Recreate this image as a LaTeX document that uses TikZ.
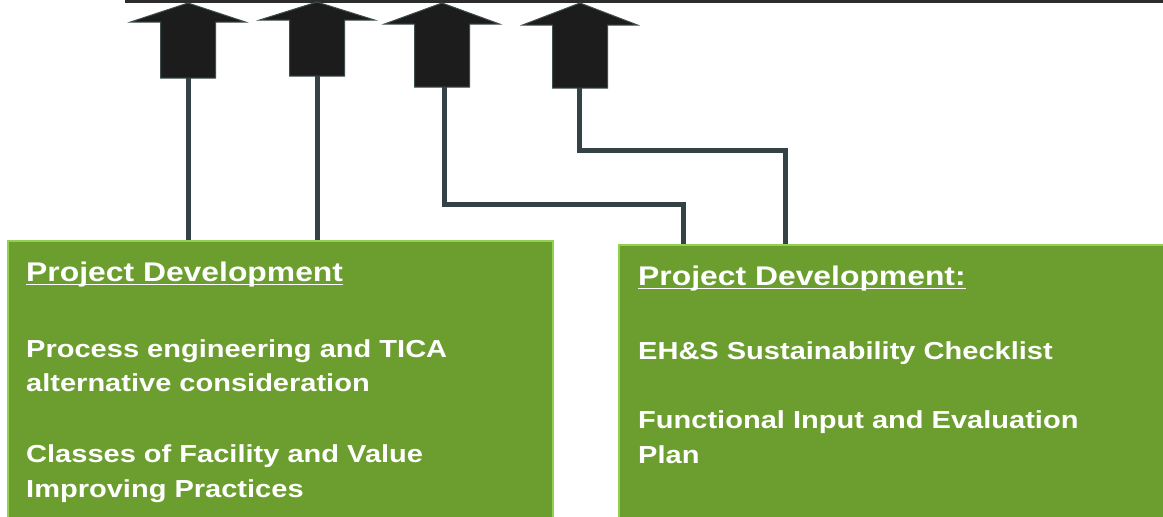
\documentclass[tikz,border=0pt]{standalone}
\usepackage{fontspec}
\newfontfamily\gfont{Liberation Sans}[FakeStretch=1.18]
\definecolor{boxgreen}{RGB}{107,158,46}
\definecolor{boxedge}{RGB}{146,208,80}
\definecolor{connc}{RGB}{52,66,70}
\definecolor{arrfill}{RGB}{28,28,28}
\definecolor{arredge}{RGB}{62,78,78}
\begin{document}
\begin{tikzpicture}[x=1pt,y=-1pt,
  greenbox/.style={draw=boxedge,fill=boxgreen,line width=2pt,anchor=north west,inner sep=0pt},
  conn/.style={draw=connc,line width=5pt},
  blockarrow/.style={fill=arrfill,draw=arredge,line width=1pt,line join=miter},
  headtxt/.style={text=white,anchor=base west,inner sep=0pt,font=\gfont\bfseries\fontsize{27}{32}\selectfont},
  bodytxt/.style={text=white,anchor=base west,inner sep=0pt,font=\gfont\bfseries\fontsize{24.6}{30}\selectfont}]
\useasboundingbox (0,0) rectangle (1163,517);
\clip (0,0) rectangle (1163,517);
\fill[white] (0,0) rectangle (1163,517);
% top line
\draw[line width=3pt,draw={rgb,255:red,45;green,45;blue,45}] (125,1) -- (1170,1);
% boxes
\node[greenbox,minimum width=545pt,minimum height=300pt] (L) at (7,240) {};
\node[greenbox,minimum width=560pt,minimum height=300pt] (R) at (618,244) {};
% block arrows
\foreach \n/\cx/\ty/\hy/\by in {1/188/3/22/78, 2/317/2/20/76, 3/442/3/24/87, 4/580/3/25/88}{
  \draw[blockarrow] (\cx,\ty) -- (\cx+57.5,\hy) -- (\cx+27.5,\hy) -- (\cx+27.5,\by)
     -- (\cx-27.5,\by) -- (\cx-27.5,\hy) -- (\cx-57.5,\hy) -- cycle;
  \coordinate (a\n) at (\cx,\by);
}
% connectors
\draw[conn] (a1) -- (a1 |- L.north);
\draw[conn] (a2) -- (a2 |- L.north);
\coordinate (b3) at (683,244);
\coordinate (b4) at (785,244);
\draw[conn] ([xshift=2pt]a3) -- ++(0,117) -| (b3);
\draw[conn] ([xshift=-1pt]a4) -- ++(0,62) -| (b4);
% texts left
\node[headtxt] (h1) at (26,281.5) {Project Development};
\draw[white,line width=1.6pt] ([yshift=-3pt]h1.base west) -- ([yshift=-3pt]h1.base east);
\node[bodytxt] (l1) at (26,357) {Process engineering and TICA};
\node[bodytxt] (l2) at (26,391) {alternative consideration};
\node[bodytxt] (l3) at (26,462) {Classes of Facility and Value};
\node[bodytxt] (l4) at (26,497) {Improving Practices};
% texts right
\node[headtxt] (h2) at (638,285.5) {Project Development:};
\draw[white,line width=1.6pt] ([yshift=-3pt]h2.base west) -- ([yshift=-3pt]h2.base east);
\node[bodytxt] (r1) at (638,359) {EH\&S Sustainability Checklist};
\node[bodytxt] (r2) at (638,428) {Functional Input and Evaluation};
\node[bodytxt] (r3) at (638,463) {Plan};
\end{tikzpicture}
\end{document}
